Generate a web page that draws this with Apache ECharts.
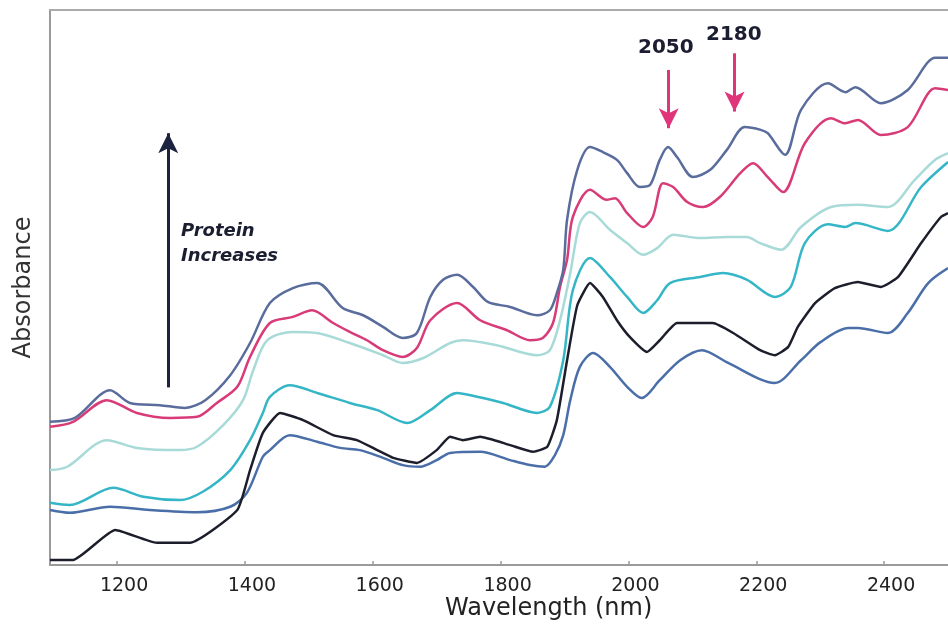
<!DOCTYPE html>
<html>
<head>
<meta charset="utf-8">
<script src="https://cdn.jsdelivr.net/npm/echarts@6/dist/echarts.min.js"></script>
<style>html,body{margin:0;padding:0;background:#fff;}#c{width:948px;height:633px;}</style>
</head>
<body>
<div id="c"></div>
<script>
// Wavelength tick labels (nm)
const tickLabels = [1200, 1400, 1600, 1800, 2000, 2200, 2400];

// Spectra: [wavelength nm, absorbance (arbitrary units)], highest protein first
const spectrum1 = [[1095,0.258],[1134,0.265],[1189,0.315],[1220,0.292],[1267,0.288],[1306,0.283],[1338,0.297],[1377,0.342],[1408,0.400],[1439,0.472],[1475,0.499],[1513,0.508],[1553,0.463],[1585,0.450],[1616,0.429],[1647,0.409],[1669,0.418],[1690,0.483],[1710,0.514],[1732,0.523],[1757,0.501],[1780,0.474],[1815,0.465],[1857,0.450],[1877,0.459],[1888,0.490],[1898,0.532],[1904,0.622],[1920,0.712],[1940,0.753],[1960,0.744],[1982,0.730],[1998,0.706],[2018,0.681],[2034,0.685],[2049,0.730],[2062,0.753],[2076,0.735],[2101,0.699],[2128,0.712],[2154,0.748],[2182,0.789],[2207,0.784],[2218,0.778],[2245,0.739],[2270,0.820],[2312,0.868],[2340,0.852],[2355,0.861],[2395,0.832],[2437,0.856],[2480,0.914],[2500,0.914]];
const spectrum2 = [[1095,0.249],[1131,0.258],[1184,0.297],[1231,0.274],[1283,0.265],[1325,0.267],[1356,0.292],[1388,0.321],[1408,0.375],[1439,0.436],[1475,0.447],[1505,0.459],[1538,0.436],[1564,0.420],[1591,0.405],[1616,0.387],[1647,0.375],[1669,0.391],[1690,0.441],[1732,0.472],[1768,0.441],[1810,0.423],[1846,0.405],[1866,0.409],[1882,0.436],[1893,0.501],[1904,0.550],[1913,0.627],[1940,0.676],[1966,0.658],[1979,0.661],[1998,0.634],[2023,0.609],[2038,0.627],[2054,0.688],[2070,0.681],[2092,0.654],[2117,0.645],[2143,0.663],[2175,0.706],[2195,0.724],[2218,0.699],[2242,0.672],[2276,0.760],[2317,0.805],[2339,0.796],[2359,0.802],[2395,0.775],[2437,0.789],[2480,0.859],[2500,0.856]];
const spectrum3 = [[1095,0.171],[1122,0.177],[1184,0.225],[1231,0.211],[1298,0.207],[1325,0.213],[1366,0.252],[1397,0.297],[1413,0.351],[1435,0.405],[1475,0.420],[1513,0.418],[1564,0.400],[1616,0.378],[1647,0.364],[1679,0.373],[1721,0.400],[1741,0.405],[1794,0.396],[1857,0.378],[1877,0.387],[1893,0.441],[1909,0.526],[1924,0.616],[1940,0.636],[1971,0.604],[1998,0.580],[2023,0.559],[2045,0.571],[2070,0.595],[2112,0.589],[2154,0.591],[2185,0.591],[2206,0.580],[2239,0.568],[2270,0.609],[2317,0.645],[2359,0.649],[2406,0.645],[2448,0.694],[2480,0.730],[2500,0.742]];
const spectrum4 = [[1095,0.112],[1126,0.108],[1194,0.139],[1241,0.123],[1298,0.117],[1334,0.132],[1377,0.171],[1408,0.225],[1428,0.274],[1439,0.303],[1470,0.324],[1513,0.310],[1564,0.292],[1607,0.279],[1654,0.256],[1690,0.279],[1732,0.310],[1763,0.303],[1804,0.292],[1857,0.274],[1877,0.285],[1898,0.369],[1913,0.495],[1940,0.553],[1971,0.519],[1998,0.483],[2023,0.454],[2045,0.477],[2065,0.508],[2112,0.519],[2148,0.526],[2185,0.514],[2229,0.483],[2254,0.501],[2276,0.580],[2312,0.614],[2339,0.609],[2355,0.616],[2406,0.602],[2458,0.681],[2500,0.726]];
const spectrum5 = [[1095,0.009],[1131,0.009],[1197,0.063],[1262,0.040],[1314,0.040],[1388,0.099],[1408,0.171],[1428,0.238],[1455,0.274],[1491,0.261],[1538,0.234],[1575,0.225],[1607,0.207],[1632,0.193],[1669,0.184],[1700,0.207],[1721,0.231],[1741,0.225],[1768,0.231],[1815,0.216],[1851,0.204],[1873,0.213],[1888,0.261],[1904,0.369],[1920,0.468],[1940,0.508],[1960,0.483],[1982,0.441],[2002,0.411],[2029,0.384],[2049,0.405],[2076,0.436],[2132,0.436],[2164,0.418],[2206,0.387],[2229,0.378],[2250,0.393],[2265,0.429],[2292,0.472],[2323,0.499],[2359,0.510],[2395,0.501],[2422,0.519],[2458,0.580],[2489,0.627],[2500,0.634]];
const spectrum6 = [[1095,0.099],[1126,0.094],[1189,0.105],[1251,0.099],[1325,0.095],[1377,0.105],[1403,0.130],[1428,0.195],[1439,0.207],[1470,0.234],[1513,0.222],[1549,0.211],[1580,0.207],[1616,0.193],[1647,0.180],[1674,0.177],[1700,0.189],[1721,0.202],[1768,0.204],[1815,0.189],[1846,0.180],[1869,0.177],[1885,0.198],[1898,0.234],[1909,0.297],[1924,0.357],[1945,0.382],[1971,0.357],[1998,0.321],[2021,0.301],[2049,0.333],[2081,0.369],[2115,0.387],[2156,0.364],[2229,0.328],[2270,0.369],[2301,0.402],[2344,0.427],[2359,0.427],[2406,0.418],[2437,0.454],[2469,0.508],[2500,0.535]];

const spectra = [spectrum1, spectrum2, spectrum3, spectrum4, spectrum5, spectrum6];
const colors = ['#5a6c9c', '#d83c78', '#a8dad8', '#35b6c6', '#1c1e2c', '#4a6ea8'];
const smoothing = [0.3, 0.3, 0.3, 0.3, 0.15, 0.3];

const chart = echarts.init(document.getElementById('c'), null, {renderer: 'canvas'});

const lineSeries = spectra.map((d, i) => ({
  type: 'line',
  data: d,
  showSymbol: false,
  smooth: smoothing[i],
  silent: true,
  lineStyle: {color: colors[i], width: 2.5},
  z: 10 - i
}));

lineSeries.push({
  type: 'line',
  data: [],
  silent: true,
  markLine: {
    silent: true,
    animation: false,
    symbol: ['none', 'arrow'],
    symbolSize: [15, 20],
    label: {show: false},
    data: [
      [{coord: [2063, 0.892], lineStyle: {color: '#e0357a', width: 3, type: 'solid'}}, {coord: [2063, 0.787]}],
      [{coord: [2166, 0.922], lineStyle: {color: '#e0357a', width: 3, type: 'solid'}}, {coord: [2166, 0.817]}],
      [{coord: [1280, 0.320], lineStyle: {color: '#1c2340', width: 3, type: 'solid'}}, {coord: [1280, 0.778]}]
    ]
  }
});

chart.setOption({
  animation: false,
  backgroundColor: '#ffffff',
  grid: {left: 50, right: 0, top: 10, bottom: 68},
  xAxis: [{
    type: 'value',
    min: 1095,
    max: 2500,
    axisLine: {show: true, lineStyle: {color: '#9a9a9a', width: 2}},
    axisTick: {show: true, inside: true, length: 4, customValues: tickLabels, lineStyle: {color: '#9a9a9a', width: 1.5}},
    axisLabel: {customValues: tickLabels, formatter: (v) => String(v), color: '#222', fontSize: 19, fontFamily: 'DejaVu Sans', margin: 12, padding: [0, 0, 0, 14]},
    splitLine: {show: false}
  }, {
    type: 'value',
    position: 'top',
    min: 1095,
    max: 2500,
    axisLine: {show: true, onZero: false, lineStyle: {color: '#aaaaaa', width: 2}},
    axisTick: {show: false},
    axisLabel: {show: false},
    splitLine: {show: false}
  }],
  yAxis: {
    type: 'value',
    min: 0,
    max: 1,
    name: 'Absorbance',
    nameLocation: 'middle',
    nameGap: 14,
    nameTextStyle: {color: '#333', fontSize: 24, fontFamily: 'DejaVu Sans'},
    axisLine: {show: true, lineStyle: {color: '#9a9a9a', width: 2}},
    axisTick: {show: false},
    axisLabel: {show: false},
    splitLine: {show: false}
  },
  graphic: [
    {type: 'text', left: 445, top: 597, style: {text: 'Wavelength (nm)', fill: '#222', font: '24px "DejaVu Sans"'}},
    {type: 'text', left: 638, top: 38, style: {text: '2050', fill: '#1b1d30', font: 'bold 20px "DejaVu Sans"'}},
    {type: 'text', left: 706, top: 25, style: {text: '2180', fill: '#1b1d30', font: 'bold 20px "DejaVu Sans"'}},
    {type: 'text', left: 181, top: 219, style: {text: 'Protein\nIncreases', fill: '#1b1d30', lineHeight: 25, font: 'italic bold 18px "DejaVu Sans"'}}
  ],
  series: lineSeries
});
</script>
</body>
</html>
